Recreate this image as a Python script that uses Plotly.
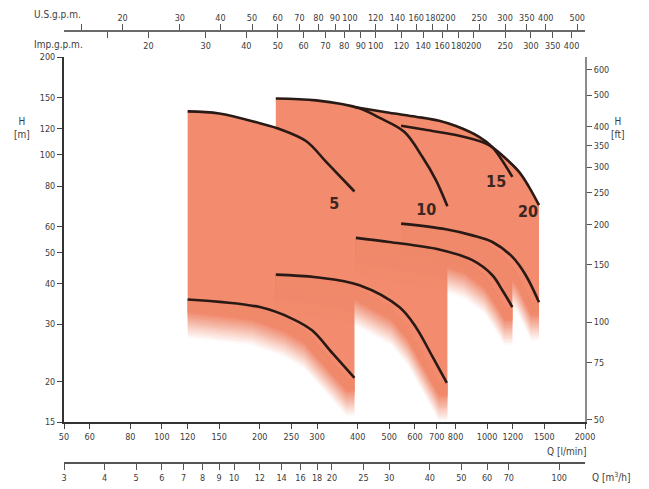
import numpy as np
import plotly.graph_objects as go

# ---------------- data (Q in l/min, H in m) ----------------
q5_top = [120, 150, 200, 230, 278, 320, 391]
h5_top = [136, 134, 125, 120, 110, 95, 77]
q5_bot = [120, 200, 252, 290, 335, 391]
h5_bot = [35.8, 33.9, 31.2, 28.7, 24.4, 20.5]

q10_top = [224, 298, 405, 466, 556, 632, 696, 755]
h10_top = [149, 147, 139, 130, 117.6, 98.5, 83.5, 69.3]
q10_bot = [224, 298, 405, 537, 604, 680, 752]
h10_bot = [42.7, 41.9, 39.6, 33.9, 29.4, 23.8, 19.8]

q15_top = [394, 500, 604, 712, 802, 945, 1036, 1196]
h15_top = [140, 134.6, 130.9, 127.2, 122.5, 113.5, 105.7, 85.4]
q15_bot = [395, 500, 712, 901, 1038, 1114, 1196]
h15_bot = [55.4, 53.8, 51.0, 47.3, 42.5, 38.2, 33.9]

q20_top = [544, 632, 802, 991, 1036, 1141, 1254, 1345, 1444]
h20_top = [122.8, 119.7, 114.9, 108.3, 105.5, 97.3, 88.5, 79.6, 69.9]
q20_bot = [544, 747, 901, 1038, 1196, 1315, 1444]
h20_bot = [61.3, 58.9, 56.4, 53.8, 48.4, 42.5, 35.1]

models = ["5", "10", "15", "20"]
label_q = [339, 650, 1066, 1337]
label_h = [69.9, 67.2, 81.7, 65.9]

# ---------------- axis ticks ----------------
q_ticks = [50, 60, 80, 100, 120, 150, 200, 250, 300, 400, 500, 600, 700, 800, 1000, 1200, 1500, 2000]
h_ticks = [15, 20, 30, 40, 50, 60, 80, 100, 120, 150, 200]
ft_ticks = [50, 75, 100, 150, 200, 250, 300, 350, 400, 500, 600]
usgpm_ticks = [20, 30, 40, 50, 60, 70, 80, 90, 100, 120, 140, 160, 180, 200, 250, 300, 350, 400, 500]
impgpm_ticks = [20, 30, 40, 50, 60, 70, 80, 90, 100, 120, 140, 160, 180, 200, 250, 300, 350, 400]
gpm_minor = [15]
m3h_ticks = [3, 4, 5, 6, 7, 8, 9, 10, 12, 14, 16, 18, 20, 25, 30, 40, 50, 60, 70, 100]

Q_MIN, Q_MAX = 50, 2000
H_MIN, H_MAX = 15, 200
US_GAL, IMP_GAL, FT = 3.78541, 4.54609, 0.3048

ORANGE = (243, 139, 110)
ORANGE_S = "rgb(%d,%d,%d)" % ORANGE
CURVE = "#2a1a15"

fig = go.Figure()

DEC = 324.0
shift = 10 ** (8 / 326.0)       # horizontal shadow shift
solid = 10 ** (-12 / DEC)       # solid band below lower curve
N = 12
step = 10 ** (-2.2 / DEC)       # fade band thickness

regions = [(q5_top, h5_top, q5_bot, h5_bot),
           (q10_top, h10_top, q10_bot, h10_bot),
           (q15_top, h15_top, q15_bot, h15_bot),
           (q20_top, h20_top, q20_bot, h20_bot)]

for qt, ht, qb, hb in regions:
    q0, q1 = qt[0], qt[-1]
    bq = [q0]
    bh = [hb[0]]
    for q, h in zip(qb, hb):
        qs = q / shift
        if qs > q0:
            bq.append(qs)
            bh.append(h)
    bq.append(q1)
    bh.append(hb[-1])
    bq = np.array(bq)
    bh = np.array(bh)
    xs = list(qt) + list(bq[::-1])
    ys = list(ht) + list((bh * solid)[::-1])
    fig.add_trace(go.Scatter(x=xs, y=ys, fill="toself", mode="lines",
                             line=dict(width=0), fillcolor=ORANGE_S,
                             hoverinfo="skip", showlegend=False))
    for j in range(N):
        if j < N - 1:
            a = 1 - (j + 0.5) / (j + 1.5)
        else:
            a = 1 - (N - 0.5) / N
        low = bh * solid * step ** (j + 1)
        xs = list(bq) + list(bq[::-1])
        ys = list(bh) + list(low[::-1])
        fig.add_trace(go.Scatter(x=xs, y=ys, fill="toself", mode="lines",
                                 line=dict(width=0),
                                 fillcolor="rgba(%d,%d,%d,%.3f)" % (ORANGE + (a,)),
                                 hoverinfo="skip", showlegend=False))

for qt, ht, qb, hb in regions:
    for q, h in ((qt, ht), (qb, hb)):
        fig.add_trace(go.Scatter(x=q, y=h, mode="lines",
                                 line=dict(color=CURVE, width=2.6, shape="spline", smoothing=1.0),
                                 hoverinfo="skip", showlegend=False))

fig.add_trace(go.Scatter(x=label_q, y=label_h, mode="text", text=models,
                         textfont=dict(size=16, color="#3b2620", weight="bold",
                                       family="DejaVu Sans Condensed, DejaVu Sans, sans-serif"),
                         hoverinfo="skip", showlegend=False))

# dummy traces for secondary axes
fig.add_trace(go.Scatter(x=[100 / US_GAL], y=[50], xaxis="x2", yaxis="y", mode="markers",
                         marker=dict(opacity=0), hoverinfo="skip", showlegend=False))
fig.add_trace(go.Scatter(x=[100 / IMP_GAL], y=[50], xaxis="x3", yaxis="y", mode="markers",
                         marker=dict(opacity=0), hoverinfo="skip", showlegend=False))
fig.add_trace(go.Scatter(x=[10], y=[50], xaxis="x4", yaxis="y", mode="markers",
                         marker=dict(opacity=0), hoverinfo="skip", showlegend=False))
fig.add_trace(go.Scatter(x=[100], y=[100], xaxis="x", yaxis="y2", mode="markers",
                         marker=dict(opacity=0), hoverinfo="skip", showlegend=False))

GRID = "rgba(45,45,45,0.55)"
for q in q_ticks[1:-1]:
    fig.add_shape(type="line", xref="x", yref="y domain", x0=np.log10(q), x1=np.log10(q),
                  y0=0, y1=1, line=dict(color=GRID, width=1), layer="above")
for h in h_ticks[1:-1]:
    fig.add_shape(type="line", xref="x domain", yref="y", x0=0, x1=1,
                  y0=np.log10(h), y1=np.log10(h), line=dict(color=GRID, width=1), layer="above")

FONT = "DejaVu Sans Condensed, Liberation Sans Narrow, Roboto, sans-serif"
TICKF = dict(size=9, color="#3c3c3c", family=FONT)

def lbl(v):
    return [str(t) for t in v]

common = dict(type="log", showgrid=False, zeroline=False, ticks="outside",
              tickfont=TICKF, automargin=False, tickangle=0)

fig.update_layout(
    width=649, height=489,
    margin=dict(l=64, r=64, t=31, b=26),
    paper_bgcolor="white", plot_bgcolor="white",
    font=dict(family=FONT, size=9, color="#3c3c3c"),
    xaxis=dict(range=[np.log10(Q_MIN), np.log10(Q_MAX)], domain=[0, 1], anchor="y",
               tickvals=q_ticks, ticktext=lbl(q_ticks), ticklen=5, tickcolor="#444",
               showline=True, linecolor="#333", linewidth=2, **common),
    yaxis=dict(range=[np.log10(H_MIN), np.log10(H_MAX)], domain=[0.0949, 0.9398], anchor="x",
               tickvals=h_ticks, ticktext=lbl(h_ticks), ticklen=5, tickcolor="#444",
               showline=True, linecolor="#333", linewidth=2, **common),
    yaxis2=dict(range=[np.log10(H_MIN / FT), np.log10(H_MAX / FT)], overlaying="y", side="right",
                anchor="x", tickvals=ft_ticks, ticktext=lbl(ft_ticks), ticklen=5, tickcolor="#555",
                showline=True, linecolor="#8a8a8a", linewidth=2, **common),
    xaxis2=dict(range=[np.log10(Q_MIN / US_GAL), np.log10(Q_MAX / US_GAL)], overlaying="x",
                anchor="free", position=1, side="top", tickvals=usgpm_ticks,
                ticktext=lbl(usgpm_ticks), ticklen=6,
                minor=dict(tickvals=gpm_minor, ticks="outside", ticklen=6, tickcolor="#555"),
                tickcolor="#555", showline=True, linecolor="#6a6a6a", linewidth=1.5, **common),
    xaxis3=dict(range=[np.log10(Q_MIN / IMP_GAL), np.log10(Q_MAX / IMP_GAL)], overlaying="x",
                anchor="free", position=1, side="bottom", tickvals=impgpm_ticks,
                ticktext=lbl(impgpm_ticks), ticklen=6,
                minor=dict(tickvals=gpm_minor, ticks="outside", ticklen=6, tickcolor="#555"),
                tickcolor="#555", showline=False, **common),
    xaxis4=dict(range=[np.log10(Q_MIN * 0.06), np.log10(Q_MAX * 0.06)], overlaying="x",
                anchor="free", position=0, side="bottom", tickvals=m3h_ticks,
                ticktext=lbl(m3h_ticks), ticklen=6, tickcolor="#555",
                showline=True, linecolor="#555", linewidth=1.5, **common),
)

ann = dict(xref="paper", yref="paper", showarrow=False, font=dict(size=10, color="#3c3c3c", family=FONT))
fig.add_annotation(text="H<br>[m]", x=-0.081, y=0.775, xanchor="center", yanchor="middle", **ann)
fig.add_annotation(text="H<br>[ft]", x=1.063, y=0.775, xanchor="center", yanchor="middle", **ann)
fig.add_annotation(text="U.S.g.p.m.", x=-0.0614, y=1.039, xanchor="left", yanchor="middle", **ann)
fig.add_annotation(text="Imp.g.p.m.", x=-0.0614, y=0.9676, xanchor="left", yanchor="middle", **ann)
fig.add_annotation(text="Q [l/min]", x=1.005, y=0.0255, xanchor="right", yanchor="middle", **ann)
fig.add_annotation(text="Q [m<sup>3</sup>/h]", x=1.01, y=-0.032, xanchor="left", yanchor="middle", **ann)

fig.write_html("out.html", config={"displayModeBar": False},
               post_script="document.body.style.margin='0';document.body.style.overflow='hidden';")
